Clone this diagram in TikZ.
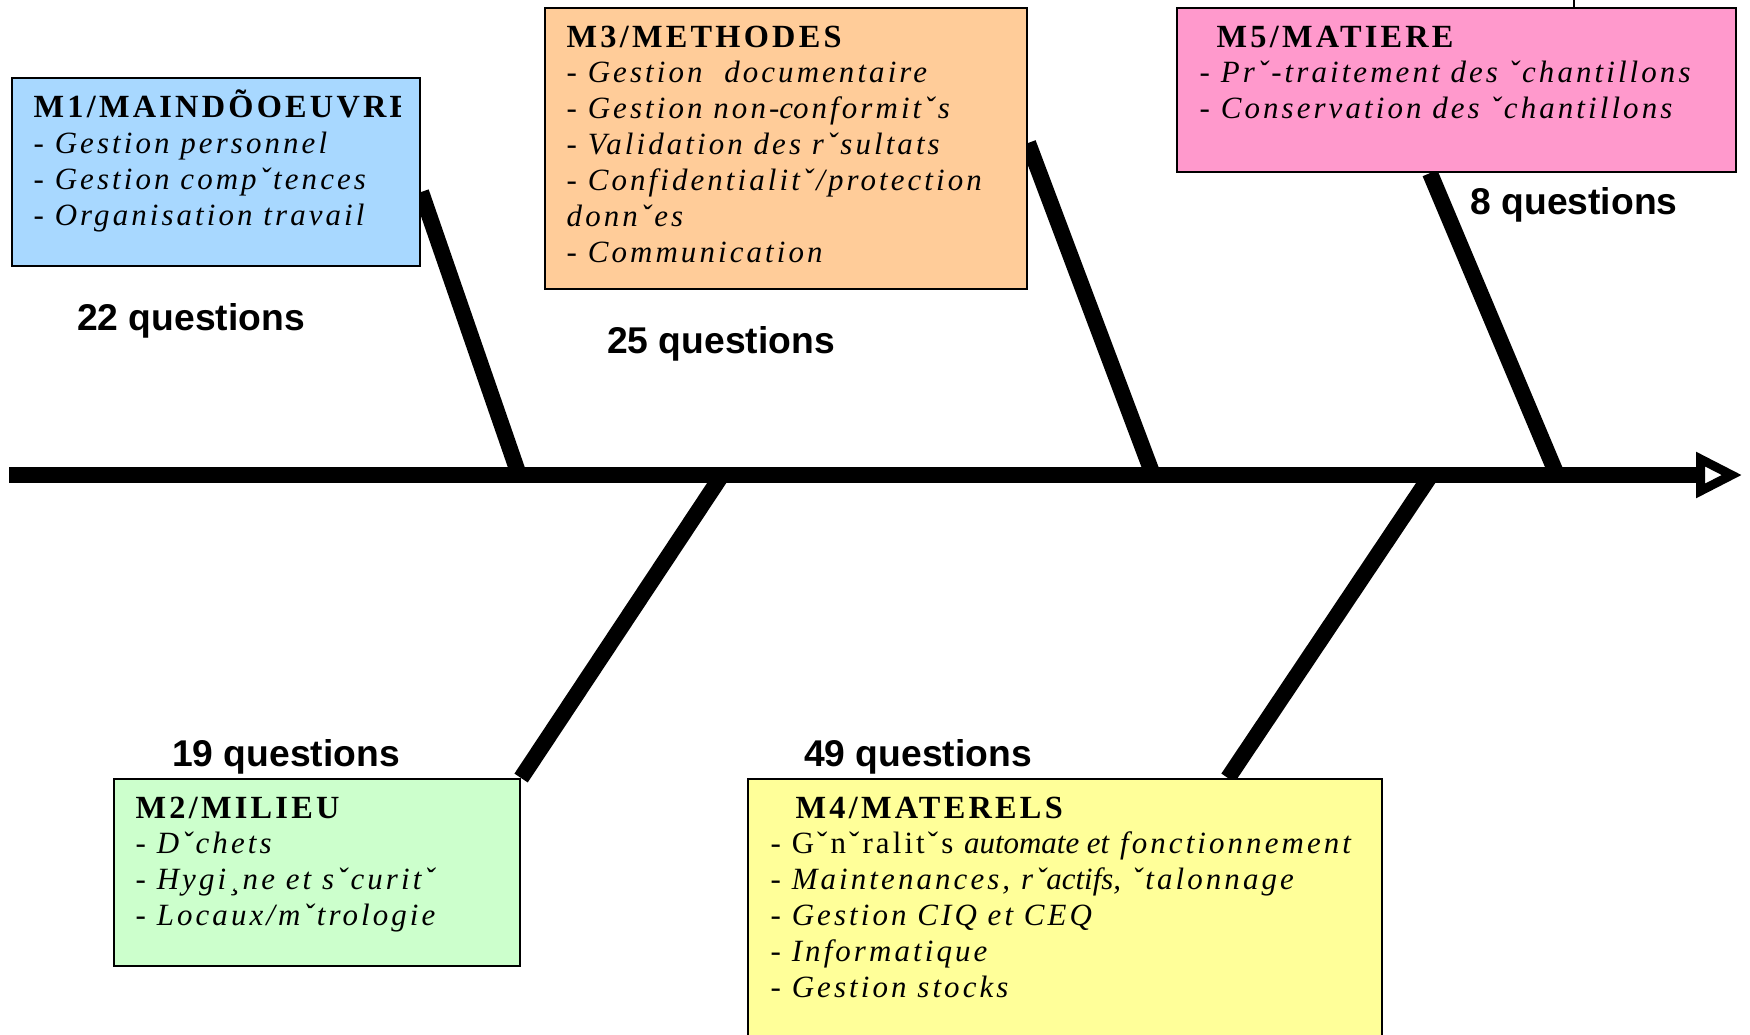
\documentclass[tikz,border=0pt]{standalone}
\usepackage{fontspec}
\setmainfont{Liberation Serif}
\setsansfont{Liberation Sans}
\newfontfamily\spacedserif[LetterSpace=10]{Liberation Serif}
\usetikzlibrary{arrows.meta}

\definecolor{mainblue}{HTML}{A8D8FF}
\definecolor{methorange}{HTML}{FFCC99}
\definecolor{matpink}{HTML}{FF99CC}
\definecolor{milgreen}{HTML}{CCFFCC}
\definecolor{mateyellow}{HTML}{FFFF99}

\pgfdeclarelayer{background}
\pgfsetlayers{background,main}

\tikzset{
  causebox/.style={draw=black, line width=0.6pt, anchor=north west, inner sep=0pt},
  causetext/.style={anchor=north west, inner sep=0pt, align=left,
    font=\spacedserif\fontsize{8.8}{10.2}\selectfont\itshape},
  bone/.style={line width=1.6mm},
  count/.style={font=\sffamily\bfseries\fontsize{10.6}{12}\selectfont},
}
\newcommand{\boxtitle}[1]{{\upshape\bfseries\fontsize{9.2}{10.2}\selectfont #1}}
\newcommand{\tight}[1]{{\addfontfeature{LetterSpace=0}#1}}

\begin{document}
\begin{tikzpicture}[x=0.1mm, y=-0.1mm]
    \useasboundingbox (0,0) rectangle (1750,1034);

    % the five cause boxes
    \node[causebox, fill=mainblue, minimum width=40.8mm, minimum height=18.8mm] (m1) at (11,77) {};
    \node[causebox, fill=methorange, minimum width=48.2mm, minimum height=28.1mm] (m3) at (544,7) {};
    \node[causebox, fill=matpink, minimum width=55.9mm, minimum height=16.4mm] (m5) at (1176,7) {};
    \node[causebox, fill=milgreen, minimum width=40.6mm, minimum height=18.7mm] (m2) at (113,778) {};
    \node[causebox, fill=mateyellow, minimum width=63.4mm, minimum height=28mm] (m4) at (747,778) {};

    % texts of the boxes
    \begin{scope}
        \clip (m1.north west) rectangle ([xshift=-2.1mm]m1.south east);
        \node[causetext] (m1t) at ([shift={(2.2mm,-1.2mm)}]m1.north west)
            {\boxtitle{M1/MAINDÕOEUVRE}\\- Gestion personnel\\- Gestion compˇtences\\- Organisation travail};
    \end{scope}
    \node[causetext] (m3t) at ([shift={(2.2mm,-1.8mm)}]m3.north west)
        {\boxtitle{M3/METHODES}\\- Gestion\ \ documentaire\\- Gestion non-\tight{c}onformitˇs\\- Validation des rˇsultats\\- Confidentialitˇ/protection\\donnˇes\\- Communication};
    \node[causetext] (m5t) at ([shift={(2.3mm,-1.8mm)}]m5.north west)
        {\hspace*{1.7mm}\boxtitle{M5/MATIERE}\\- Prˇ-traitement des ˇchantillons\\- Conservation des ˇchantillons};
    \node[causetext] (m2t) at ([shift={(2.2mm,-1.8mm)}]m2.north west)
        {\boxtitle{M2/MILIEU}\\- Dˇchets\\- Hygi¸ne et sˇcuritˇ\\- Locaux/mˇtrologie};
    \node[causetext] (m4t) at ([shift={(2.3mm,-1.8mm)}]m4.north west)
        {\hspace*{2.5mm}\boxtitle{M4/MATERELS}\\{\upshape - Gˇnˇralitˇs} \tight{automate et} fonctionnement\\- Maintenances, rˇ\tight{actifs,} ˇtalonnage\\- Gestion CIQ et CEQ\\- Informatique\\- Gestion stocks};

    % question counts
    \node[count] (n1) at (191,321) {22 questions};
    \node[count] (n3) at (721,344) {25 questions};
    \node[count] (n5) at (1574,205) {8 questions};
    \node[count] (n2) at (286,757) {19 questions};
    \node[count] (n4) at (918,757) {49 questions};

    % spine and bones
    \coordinate (tail) at (9,475);
    \coordinate (head) at (1742,475);
    \coordinate (j1) at (519,475);
    \coordinate (j2) at (722,475);
    \coordinate (j3) at (1153,475);
    \coordinate (j4) at (1431,475);
    \coordinate (j5) at (1557,475);
    \begin{pgfonlayer}{background}
        \draw[bone, -{Triangle[open, length=4.6mm, width=4.4mm, line width=0.9mm]}] (tail) -- (head);
        \draw[bone] (m1.east |- 0,192) -- (j1);
        \draw[bone] (m3.east |- 0,143) -- (j3);
        \draw[bone] (m5.south -| 1430,0) -- (j5);
        \draw[bone] (m2.north east) -- (j2);
        \draw[bone] (m4.north -| 1228,0) -- (j4);
    \end{pgfonlayer}
    \draw[line width=0.6pt] (m5.north -| 1574,0) -- (1574,0);
\end{tikzpicture}
\end{document}
